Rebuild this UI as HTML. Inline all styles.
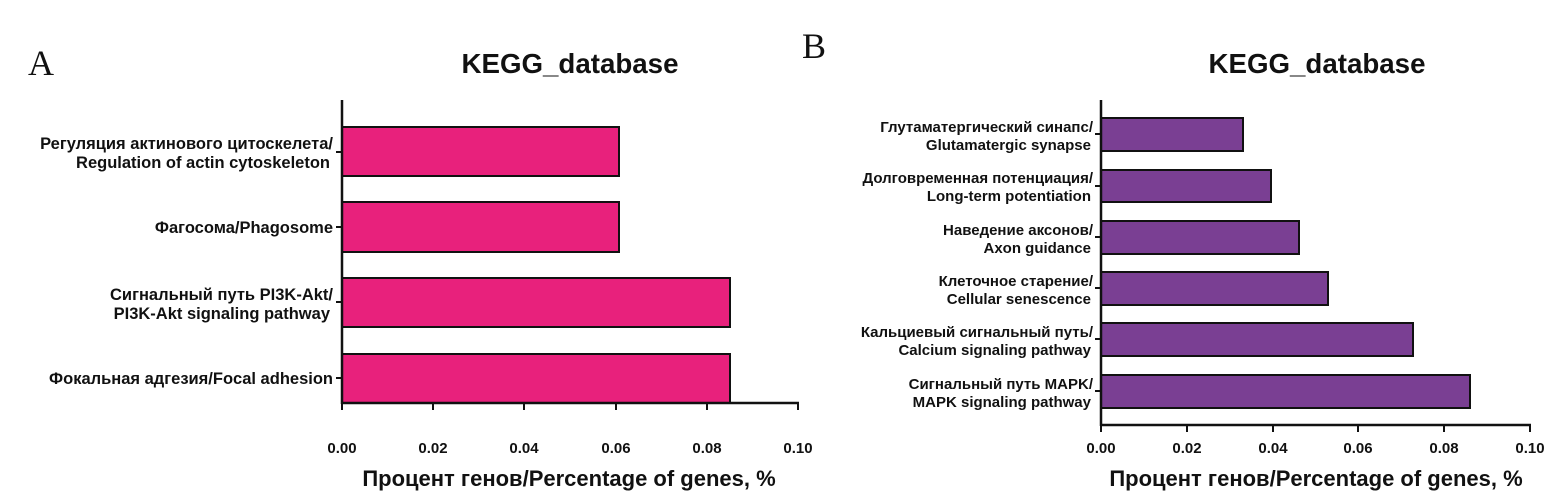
<!DOCTYPE html>
<html><head><meta charset="utf-8"><style>
html,body{margin:0;padding:0;background:#fff;}
svg{display:block;}
text{font-family:"Liberation Sans Narrow","Liberation Sans",sans-serif;font-weight:bold;fill:#111;}
.lab{font-size:16.5px;text-anchor:end;}
.labb{font-size:15px;text-anchor:end;}
.tk{font-size:15px;text-anchor:middle;}
.ttl{font-size:27.7px;text-anchor:middle;font-family:"Liberation Sans",sans-serif;}
.xt{font-size:22px;text-anchor:middle;}
.let{font-family:"Liberation Serif",serif;font-weight:normal;font-size:36px;}
</style></head><body>
<svg width="1566" height="497" viewBox="0 0 1566 497">
<text class="let" x="28" y="75">A</text>
<text class="let" x="802" y="58">B</text>
<text class="ttl" x="570" y="73">KEGG_database</text>
<text class="ttl" x="1317" y="73">KEGG_database</text>

<!-- Chart A -->
<g stroke="#111" stroke-width="2">
<rect x="342" y="127" width="277" height="49" fill="#e8217c"/>
<rect x="342" y="202" width="277" height="50" fill="#e8217c"/>
<rect x="342" y="278" width="388" height="49" fill="#e8217c"/>
<rect x="342" y="354" width="388" height="49" fill="#e8217c"/>
<line x1="342" y1="100" x2="342" y2="404" stroke-width="2.5"/>
<line x1="341" y1="403" x2="799" y2="403" stroke-width="2.5"/>
<line x1="342" y1="403" x2="342" y2="410"/><line x1="433" y1="403" x2="433" y2="410"/><line x1="524" y1="403" x2="524" y2="410"/><line x1="616" y1="403" x2="616" y2="410"/><line x1="707" y1="403" x2="707" y2="410"/><line x1="798" y1="403" x2="798" y2="410"/>
<line x1="336" y1="152" x2="342" y2="152"/><line x1="336" y1="227" x2="342" y2="227"/><line x1="336" y1="302" x2="342" y2="302"/><line x1="336" y1="378" x2="342" y2="378"/>
</g>
<text class="lab" x="333" y="149">Регуляция актинового цитоскелета/</text>
<text class="lab" x="330" y="168">Regulation of actin cytoskeleton</text>
<text class="lab" x="333" y="233">Фагосома/Phagosome</text>
<text class="lab" x="333" y="300">Сигнальный путь PI3K-Akt/</text>
<text class="lab" x="330" y="319">PI3K-Akt signaling pathway</text>
<text class="lab" x="333" y="384">Фокальная адгезия/Focal adhesion</text>
<text class="tk" x="342" y="453">0.00</text><text class="tk" x="433" y="453">0.02</text><text class="tk" x="524" y="453">0.04</text><text class="tk" x="616" y="453">0.06</text><text class="tk" x="707" y="453">0.08</text><text class="tk" x="798" y="453">0.10</text>
<text class="xt" x="569" y="486">Процент генов/Percentage of genes, %</text>

<!-- Chart B -->
<g stroke="#111" stroke-width="2">
<rect x="1101" y="118" width="142" height="33" fill="#7a3f93"/>
<rect x="1101" y="170" width="170" height="32" fill="#7a3f93"/>
<rect x="1101" y="221" width="198" height="33" fill="#7a3f93"/>
<rect x="1101" y="272" width="227" height="33" fill="#7a3f93"/>
<rect x="1101" y="323" width="312" height="33" fill="#7a3f93"/>
<rect x="1101" y="375" width="369" height="33" fill="#7a3f93"/>
<line x1="1101" y1="100" x2="1101" y2="426" stroke-width="2.5"/>
<line x1="1100" y1="425" x2="1531" y2="425" stroke-width="2.5"/>
<line x1="1101" y1="425" x2="1101" y2="432"/><line x1="1187" y1="425" x2="1187" y2="432"/><line x1="1273" y1="425" x2="1273" y2="432"/><line x1="1358" y1="425" x2="1358" y2="432"/><line x1="1444" y1="425" x2="1444" y2="432"/><line x1="1530" y1="425" x2="1530" y2="432"/>
<line x1="1095" y1="134" x2="1101" y2="134"/><line x1="1095" y1="186" x2="1101" y2="186"/><line x1="1095" y1="237" x2="1101" y2="237"/><line x1="1095" y1="288" x2="1101" y2="288"/><line x1="1095" y1="339" x2="1101" y2="339"/><line x1="1095" y1="391" x2="1101" y2="391"/>
</g>
<text class="labb" x="1093" y="132">Глутаматергический синапс/</text>
<text class="labb" x="1091" y="150">Glutamatergic synapse</text>
<text class="labb" x="1093" y="183">Долговременная потенциация/</text>
<text class="labb" x="1091" y="201">Long-term potentiation</text>
<text class="labb" x="1093" y="235">Наведение аксонов/</text>
<text class="labb" x="1091" y="253">Axon guidance</text>
<text class="labb" x="1093" y="286">Клеточное старение/</text>
<text class="labb" x="1091" y="304">Cellular senescence</text>
<text class="labb" x="1093" y="337">Кальциевый сигнальный путь/</text>
<text class="labb" x="1091" y="355">Calcium signaling pathway</text>
<text class="labb" x="1093" y="389">Сигнальный путь MAPK/</text>
<text class="labb" x="1091" y="407">MAPK signaling pathway</text>
<text class="tk" x="1101" y="453">0.00</text><text class="tk" x="1187" y="453">0.02</text><text class="tk" x="1273" y="453">0.04</text><text class="tk" x="1358" y="453">0.06</text><text class="tk" x="1444" y="453">0.08</text><text class="tk" x="1530" y="453">0.10</text>
<text class="xt" x="1316" y="486">Процент генов/Percentage of genes, %</text>
</svg>
</body></html>
